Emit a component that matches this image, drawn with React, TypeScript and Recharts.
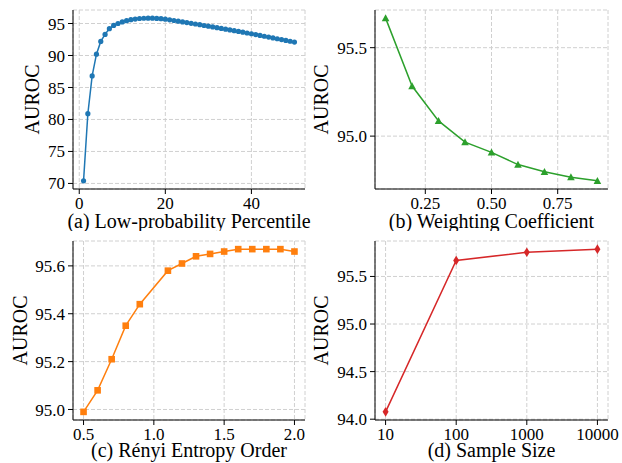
import React from "react";
import { LineChart, Line, XAxis, YAxis, CartesianGrid, Label } from "recharts";

const FONT = "'Liberation Serif', 'Times New Roman', serif";

// (a) low-probability percentile
const percentiles = [
  1, 2, 3, 4, 5, 6, 7, 8, 9, 10, 11, 12, 13, 14, 15, 16, 17, 18, 19, 20, 21, 22, 23, 24, 25,
  26, 27, 28, 29, 30, 31, 32, 33, 34, 35, 36, 37, 38, 39, 40, 41, 42, 43, 44, 45, 46, 47, 48, 49, 50,
];
const percentileAuroc = [
  70.4, 80.9, 86.8, 90.2, 92.2, 93.3, 94.2, 94.7, 95.0, 95.25, 95.45, 95.6, 95.7, 95.78, 95.82,
  95.84, 95.83, 95.8, 95.75, 95.68, 95.58, 95.47, 95.36, 95.25, 95.14, 95.03, 94.92, 94.81, 94.69,
  94.58, 94.46, 94.35, 94.23, 94.11, 94.0, 93.88, 93.76, 93.64, 93.52, 93.4, 93.27, 93.14, 93.01,
  92.88, 92.75, 92.62, 92.49, 92.36, 92.23, 92.1,
];

// (b) weighting coefficient
const weights = [0.1, 0.2, 0.3, 0.4, 0.5, 0.6, 0.7, 0.8, 0.9];
const weightAuroc = [95.667, 95.283, 95.086, 94.966, 94.908, 94.839, 94.798, 94.768, 94.747];

// (c) Rényi entropy order
const renyiOrders = [0.5, 0.6, 0.7, 0.8, 0.9, 1.1, 1.2, 1.3, 1.4, 1.5, 1.6, 1.7, 1.8, 1.9, 2.0];
const renyiAuroc = [
  94.99, 95.08, 95.21, 95.35, 95.44, 95.58, 95.61, 95.64, 95.65, 95.66, 95.67, 95.67, 95.67, 95.67, 95.66,
];

// (d) sample size
const sampleSizes = [10, 100, 1000, 10000];
const sampleAuroc = [94.077, 95.668, 95.755, 95.787];

const circleDot = (color: string) => (p: any) => (
  <circle key={`c${p.index}`} cx={p.cx} cy={p.cy} r={2.6} fill={color} />
);
const triangleDot = (color: string) => (p: any) => (
  <polygon
    key={`t${p.index}`}
    points={`${p.cx},${p.cy - 3.8} ${p.cx - 3.8},${p.cy + 3.2} ${p.cx + 3.8},${p.cy + 3.2}`}
    fill={color}
  />
);
const squareDot = (color: string) => (p: any) => (
  <rect key={`s${p.index}`} x={p.cx - 3.3} y={p.cy - 3.3} width={6.6} height={6.6} fill={color} />
);
const diamondDot = (color: string) => (p: any) => (
  <polygon
    key={`d${p.index}`}
    points={`${p.cx},${p.cy - 4.8} ${p.cx + 3},${p.cy} ${p.cx},${p.cy + 4.8} ${p.cx - 3},${p.cy}`}
    fill={color}
  />
);

interface PanelProps {
  left: number;
  top: number;
  height: number;
  xs: number[];
  ys: number[];
  xDomain: [number, number];
  yDomain: [number, number];
  xTicks: number[];
  yTicks: number[];
  xFmt: (v: number) => string;
  yFmt: (v: number) => string;
  xScale?: "linear" | "log";
  color: string;
  dot: (p: any) => React.ReactElement;
  yWidth: number;
  marginLeft: number;
  marginRight: number;
  xHeight: number;
  marginBottom: number;
  xLabel: string;
}

function Panel(props: PanelProps) {
  const data = props.xs.map((x, i) => ({ x, y: props.ys[i] }));
  const tick = { fill: "#000", fontSize: 17, fontFamily: FONT };
  const labelStyle = { fill: "#000", fontSize: 20, fontFamily: FONT };
  const scale = props.xScale || "linear";
  return (
    <div style={{ position: "absolute", left: props.left, top: props.top, fontFamily: FONT }}>
      <LineChart
        width={311}
        height={props.height}
        data={data}
        style={{ fontFamily: FONT }}
        margin={{ top: 10, right: props.marginRight, left: props.marginLeft, bottom: props.marginBottom }}
      >
        <CartesianGrid stroke="#d0d0d0" strokeDasharray="4 2" />
        <XAxis
          dataKey="x"
          type="number"
          scale={scale}
          domain={props.xDomain}
          ticks={props.xTicks}
          tickFormatter={props.xFmt}
          interval={0}
          allowDataOverflow
          height={props.xHeight}
          stroke="#000"
          tick={tick}
          tickSize={5}
          tickMargin={3}
        >
          <Label value={props.xLabel} position="insideBottom" offset={0} fontFamily={FONT} style={labelStyle} />
        </XAxis>
        <YAxis
          type="number"
          domain={props.yDomain}
          ticks={props.yTicks}
          tickFormatter={props.yFmt}
          interval={0}
          allowDataOverflow
          width={props.yWidth}
          stroke="#000"
          tick={tick}
          tickSize={5}
          tickMargin={3}
        >
          <Label value="AUROC" angle={-90} position="center" fontFamily={FONT} style={labelStyle} />
        </YAxis>
        <XAxis
          xAxisId="top"
          orientation="top"
          type="number"
          scale={scale}
          domain={props.xDomain}
          allowDataOverflow
          height={0}
          tick={false}
          tickLine={false}
          stroke="#000"
        />
        <YAxis
          yAxisId="right"
          orientation="right"
          type="number"
          domain={props.yDomain}
          allowDataOverflow
          width={0}
          tick={false}
          tickLine={false}
          stroke="#000"
        />
        <Line
          dataKey="y"
          type="linear"
          stroke={props.color}
          strokeWidth={1.5}
          dot={props.dot}
          activeDot={false}
          isAnimationActive={false}
        />
      </LineChart>
    </div>
  );
}

const blue = "#1f77b4";
const green = "#2ca02c";
const orange = "#ff7f0e";
const red = "#d62728";

export default function App() {
  return (
    <div
      style={{
        position: "absolute",
        left: 0,
        top: 0,
        width: 622,
        height: 463,
        background: "#fff",
        fontFamily: FONT,
      }}
    >
      <Panel
        left={0}
        top={0}
        height={231}
        xs={percentiles}
        ys={percentileAuroc}
        xDomain={[-1.45, 52.45]}
        yDomain={[69.128, 97.112]}
        xTicks={[0, 20, 40]}
        yTicks={[70, 75, 80, 85, 90, 95]}
        xFmt={(v) => String(v)}
        yFmt={(v) => String(v)}
        color={blue}
        dot={circleDot(blue)}
        yWidth={82}
        marginLeft={-9}
        marginRight={6}
        xHeight={39}
        marginBottom={3}
        xLabel="(a) Low-probability Percentile"
      />
      <Panel
        left={311}
        top={0}
        height={231}
        xs={weights}
        ys={weightAuroc}
        xDomain={[0.06, 0.94]}
        yDomain={[94.701, 95.713]}
        xTicks={[0.25, 0.5, 0.75]}
        yTicks={[95.0, 95.5]}
        xFmt={(v) => v.toFixed(2)}
        yFmt={(v) => v.toFixed(1)}
        color={green}
        dot={triangleDot(green)}
        yWidth={108}
        marginLeft={-44}
        marginRight={14}
        xHeight={39}
        marginBottom={3}
        xLabel="(b) Weighting Coefficient"
      />
      <Panel
        left={0}
        top={231}
        height={232}
        xs={renyiOrders}
        ys={renyiAuroc}
        xDomain={[0.425, 2.075]}
        yDomain={[94.956, 95.704]}
        xTicks={[0.5, 1.0, 1.5, 2.0]}
        yTicks={[95.0, 95.2, 95.4, 95.6]}
        xFmt={(v) => v.toFixed(1)}
        yFmt={(v) => v.toFixed(1)}
        color={orange}
        dot={squareDot(orange)}
        yWidth={106}
        marginLeft={-33}
        marginRight={6}
        xHeight={37}
        marginBottom={6}
        xLabel="(c) Rényi Entropy Order"
      />
      <Panel
        left={311}
        top={231}
        height={232}
        xs={sampleSizes}
        ys={sampleAuroc}
        xDomain={[7.079, 14125]}
        yDomain={[93.9915, 95.8725]}
        xTicks={[10, 100, 1000, 10000]}
        yTicks={[94.0, 94.5, 95.0, 95.5]}
        xFmt={(v) => String(v)}
        yFmt={(v) => v.toFixed(1)}
        xScale="log"
        color={red}
        dot={diamondDot(red)}
        yWidth={108}
        marginLeft={-44}
        marginRight={14}
        xHeight={37}
        marginBottom={6}
        xLabel="(d) Sample Size"
      />
    </div>
  );
}
